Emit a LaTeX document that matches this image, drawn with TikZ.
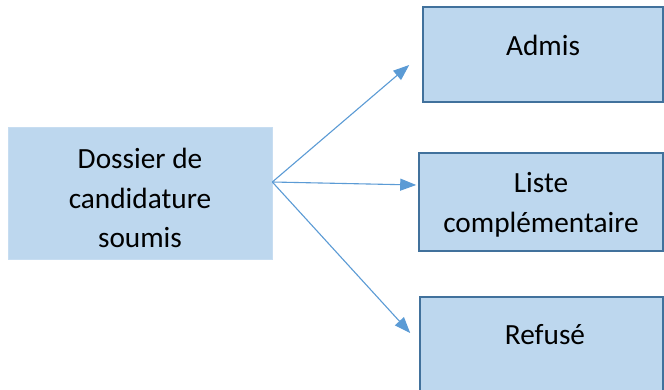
\documentclass[tikz,border=0pt]{standalone}
\usepackage{fontspec}
\setmainfont{Carlito}
\usetikzlibrary{arrows.meta,calc}
\definecolor{boxfill}{HTML}{BDD7EE}
\definecolor{boxline}{HTML}{41719C}
\definecolor{arrowc}{HTML}{5B9BD5}
\begin{document}
\begin{tikzpicture}[x=1pt,y=-1pt,
  srcbox/.style={draw=boxfill!85!white,fill=boxfill,line width=0.6pt,inner sep=0pt,
    minimum width=264pt,minimum height=132pt},
  outbox/.style={draw=boxline,fill=boxfill,line width=1.6pt,inner sep=0pt,
    minimum width=240pt},
  txt/.style={font=\fontsize{29.3}{39.5}\selectfont,align=center,inner sep=0pt,text=black},
  conn/.style={draw=arrowc,line width=1.1pt,-{Triangle[length=16pt,width=12pt]}}]
\clip (0,0) rectangle (664,390);
\useasboundingbox (0,0) rectangle (664,390);
\fill[white] (0,0) rectangle (664,390);
% boxes
\node[srcbox] (src) at (140,193) {};
\node[outbox,minimum height=95pt] (admis) at (543,54.5) {};
\node[outbox,minimum width=244pt,minimum height=98pt] (liste) at (541,202) {};
\node[outbox,minimum width=243pt,minimum height=97pt] (refuse) at (541.5,345.5) {};
% texts
\node[txt] (srcT) at (140,198) {Dossier de\\candidature\\soumis};
\node[txt] (admisT) at (543,45) {Admis};
\node[txt] (listeT) at (541,205) {Liste\\complémentaire};
\node[txt] (refuseT) at (545,335) {Refusé};
% connectors
\coordinate (o) at ($(src.east)+(0,-11)$);
\coordinate (ta) at ($(admis.west)+(-13,10.5)$);
\coordinate (tl) at ($(liste.west)+(-2,-17)$);
\coordinate (tr) at ($(refuse.west)+(-9,-12.5)$);
\draw[conn] (o) -- (ta);
\draw[conn] (o) -- (tl);
\draw[conn] (o) -- (tr);
\end{tikzpicture}
\end{document}
